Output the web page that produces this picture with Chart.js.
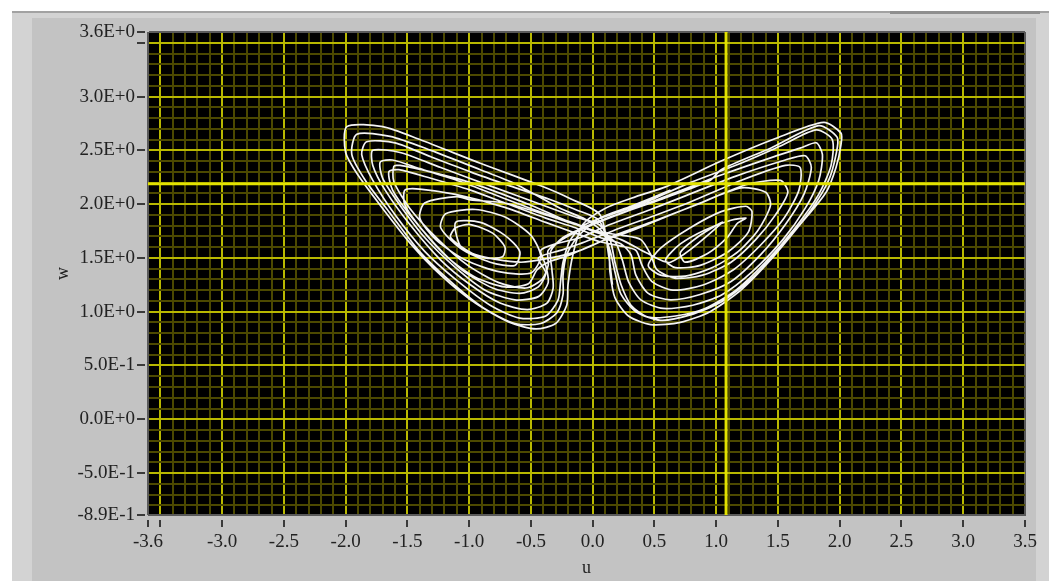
<!DOCTYPE html>
<html>
<head>
<meta charset="utf-8">
<script src="https://cdn.jsdelivr.net/npm/chart.js@4.4.1/dist/chart.umd.min.js"></script>
<style>
  html, body { margin: 0; padding: 0; background: #ffffff; }
  canvas { display: block; }
</style>
</head>
<body>
<canvas id="phase" width="1049" height="581"></canvas>
<script>
// Axis ranges
const uMin = -3.6, uMax = 3.5;
const wMin = -0.89, wMax = 3.6;

// Labelled ticks
const uTicks = [-3.6, -3.0, -2.5, -2.0, -1.5, -1.0, -0.5, 0.0, 0.5, 1.0, 1.5, 2.0, 2.5, 3.0, 3.5];
const uTickText = ['-3.6', '-3.0', '-2.5', '-2.0', '-1.5', '-1.0', '-0.5', '0.0', '0.5', '1.0', '1.5', '2.0', '2.5', '3.0', '3.5'];
const wTicks = [3.6, 3.0, 2.5, 2.0, 1.5, 1.0, 0.5, 0.0, -0.5, -0.89];
const wTickText = ['3.6E+0', '3.0E+0', '2.5E+0', '2.0E+0', '1.5E+0', '1.0E+0', '5.0E-1', '0.0E+0', '-5.0E-1', '-8.9E-1'];

// Cursor positions
const cursorU = 1.08;
const cursorW = 2.19;

// Trajectory, lap by lap: [u, w]
const leadIn = [[0.16,1.25],[0.13,1.52],[0.06,1.90],[-0.18,2.05]];
const left1 = [[-0.42,2.17],[-0.91,2.38],[-1.40,2.60],[-1.70,2.72],[-1.99,2.72],[-2.00,2.48],[-1.90,2.27],[-1.72,1.99],[-1.48,1.64],[-1.23,1.34],[-0.95,1.08],[-0.67,0.90],[-0.46,0.84],[-0.30,0.89],[-0.21,1.06],[-0.20,1.25],[-0.16,1.53],[-0.08,1.81],[0.10,1.96],[0.35,2.07]];
const right1 = [[0.59,2.16],[1.04,2.40],[1.48,2.61],[1.87,2.76],[2.01,2.66],[2.01,2.55],[1.97,2.34],[1.89,2.11],[1.68,1.81],[1.44,1.48],[1.20,1.20],[0.95,1.00],[0.71,0.90],[0.47,0.88],[0.29,0.96],[0.18,1.13],[0.14,1.37],[0.13,1.59],[0.05,1.85],[-0.14,1.95],[-0.34,2.04]];
const left2 = [[-0.67,2.17],[-0.99,2.30],[-1.31,2.44],[-1.60,2.57],[-1.83,2.58],[-1.87,2.46],[-1.78,2.22],[-1.60,1.90],[-1.36,1.56],[-1.11,1.30],[-0.83,1.06],[-0.59,0.94],[-0.38,0.96],[-0.28,1.11],[-0.26,1.28],[-0.24,1.46],[-0.18,1.67],[-0.06,1.81],[0.14,1.90],[0.39,2.00]];
const right2 = [[0.79,2.20],[1.20,2.38],[1.52,2.54],[1.81,2.69],[1.94,2.60],[1.93,2.36],[1.83,2.09],[1.64,1.78],[1.40,1.46],[1.16,1.20],[0.91,1.03],[0.67,0.96],[0.45,0.95],[0.31,1.06],[0.23,1.25],[0.18,1.46],[0.14,1.67],[0.05,1.81],[-0.14,1.88],[-0.38,1.98]];
const left3 = [[-0.83,2.17],[-1.23,2.34],[-1.56,2.48],[-1.78,2.50],[-1.78,2.36],[-1.68,2.13],[-1.48,1.81],[-1.23,1.48],[-0.99,1.25],[-0.75,1.08],[-0.53,1.02],[-0.37,1.08],[-0.32,1.22],[-0.33,1.39],[-0.34,1.56],[-0.24,1.69],[-0.08,1.78],[0.14,1.88],[0.43,2.00]];
const right3 = [[1.04,2.27],[1.44,2.43],[1.68,2.52],[1.81,2.57],[1.86,2.46],[1.83,2.22],[1.72,1.96],[1.54,1.67],[1.29,1.37],[1.05,1.16],[0.81,1.06],[0.57,1.03],[0.39,1.11],[0.29,1.28],[0.24,1.48],[0.18,1.65],[0.05,1.73],[-0.14,1.82],[-0.38,1.91],[-0.71,2.05]];
const left4 = [[-1.07,2.21],[-1.40,2.33],[-1.62,2.41],[-1.72,2.39],[-1.70,2.24],[-1.56,1.99],[-1.36,1.69],[-1.11,1.41],[-0.87,1.20],[-0.63,1.11],[-0.44,1.14],[-0.36,1.27],[-0.38,1.43],[-0.42,1.57],[-0.30,1.63],[-0.10,1.69],[0.14,1.81],[0.47,1.95]];
const right4 = [[1.16,2.26],[1.56,2.41],[1.72,2.45],[1.77,2.34],[1.71,2.09],[1.56,1.81],[1.36,1.53],[1.12,1.28],[0.87,1.16],[0.63,1.11],[0.45,1.17],[0.35,1.34],[0.31,1.53],[0.23,1.63],[0.06,1.69],[-0.14,1.78],[-0.38,1.87],[-0.71,2.01]];
const left5 = [[-0.99,2.13],[-1.31,2.24],[-1.57,2.32],[-1.65,2.30],[-1.62,2.13],[-1.48,1.90],[-1.27,1.62],[-1.06,1.39],[-0.81,1.22],[-0.59,1.17],[-0.44,1.23],[-0.38,1.36],[-0.44,1.50],[-0.26,1.57],[-0.06,1.65],[0.18,1.76],[0.47,1.88],[0.79,2.02]];
const right5 = [[1.20,2.22],[1.56,2.36],[1.68,2.34],[1.67,2.13],[1.55,1.87],[1.36,1.62],[1.14,1.39],[0.90,1.25],[0.65,1.20],[0.48,1.28],[0.40,1.43],[0.35,1.57],[0.23,1.61],[0.06,1.65],[-0.14,1.73],[-0.38,1.83],[-0.71,1.97]];
const left6 = [[-1.11,2.09],[-1.40,2.14],[-1.52,2.13],[-1.52,1.99],[-1.38,1.76],[-1.17,1.50],[-0.95,1.32],[-0.71,1.23],[-0.52,1.26],[-0.45,1.39],[-0.36,1.46],[-0.18,1.53],[0.06,1.65],[0.31,1.75],[0.59,1.88],[0.87,2.01]];
const right6 = [[1.24,2.18],[1.52,2.22],[1.58,2.11],[1.48,1.90],[1.32,1.67],[1.12,1.46],[0.89,1.34],[0.67,1.31],[0.52,1.39],[0.47,1.53],[0.39,1.67],[0.24,1.71],[0.06,1.74],[-0.14,1.81],[-0.38,1.90],[-0.71,2.01]];
const leftCore = [[-0.99,2.04],[-1.10,2.07],[-1.36,2.01],[-1.40,1.87],[-1.27,1.67],[-1.03,1.48],[-0.75,1.37],[-0.50,1.36],[-0.42,1.51],[-0.50,1.71],[-0.71,1.88],[-0.95,1.95],[-1.19,1.91],
  [-1.23,1.78],[-1.07,1.59],[-0.83,1.46],[-0.63,1.43],[-0.59,1.56],[-0.71,1.71],[-0.91,1.83],[-1.11,1.83],
  [-1.06,1.59],[-0.87,1.50],[-0.73,1.51],[-0.71,1.60],[-0.81,1.73],[-0.99,1.81],[-1.11,1.78],[-1.15,1.69],
  [-0.95,1.53],[-0.59,1.46],[-0.34,1.50],[-0.10,1.57],[0.18,1.71],[0.47,1.83],[0.83,1.99]];
const rightCore = [[1.20,2.15],[1.40,2.11],[1.44,1.99],[1.34,1.76],[1.18,1.56],[0.97,1.41],[0.75,1.33],[0.55,1.34],[0.45,1.43],[0.55,1.59],[0.79,1.78],[1.04,1.93],[1.24,1.98],
  [1.29,1.93],[1.26,1.74],[1.10,1.56],[0.87,1.43],[0.67,1.41],[0.59,1.48],[0.71,1.63],[0.91,1.76],[1.12,1.85],[1.24,1.87],
  [1.17,1.82],[1.09,1.69],[0.93,1.54],[0.75,1.46],[0.71,1.55],[0.87,1.71],[1.05,1.83],
  [0.63,1.46],[0.43,1.55],[0.23,1.67],[0.02,1.74],[-0.22,1.85],[-0.50,1.99]];
const left7 = [[-0.99,2.20],[-1.31,2.30],[-1.56,2.36],[-1.61,2.35],[-1.61,2.21],[-1.48,1.96],[-1.25,1.67],[-1.01,1.43],[-0.76,1.27],[-0.54,1.22],[-0.41,1.30],[-0.36,1.43],[-0.36,1.57],[-0.22,1.69],[-0.02,1.80],[0.27,1.93],[0.59,2.06],[0.95,2.22]];
const right7 = [[1.04,2.32],[1.44,2.52],[1.83,2.73],[1.98,2.62],[1.97,2.46],[1.91,2.22],[1.77,1.95],[1.54,1.62],[1.29,1.31],[1.04,1.09],[0.79,0.97],[0.55,0.92],[0.35,1.00],[0.23,1.16],[0.18,1.37],[0.14,1.57],[0.08,1.74],[-0.06,1.86],[-0.26,1.96]];
const left8 = [[-0.63,2.19],[-0.91,2.32],[-1.31,2.50],[-1.64,2.63],[-1.91,2.65],[-1.95,2.46],[-1.84,2.22],[-1.65,1.93],[-1.41,1.57],[-1.17,1.30],[-0.89,1.04],[-0.63,0.89],[-0.42,0.89],[-0.29,0.99],[-0.24,1.16],[-0.24,1.34],[-0.21,1.53],[-0.12,1.70],[0.06,1.87],[0.31,1.98],[0.63,2.13]];

const laps = [leadIn, left1, right1, left2, right2, left3, right3, left4, right4, left5, right5, left6, right6, leftCore, rightCore, left7, right7, left8];
const trajectory = laps.flat().map(([u, w]) => ({ x: u, y: w }));

const isMajor = v => Math.abs(v * 2 - Math.round(v * 2)) < 1e-6;
const near = (a, b) => Math.abs(a - b) < 1e-6;

// Grid every 0.1, plus the exact range ends
function gridTicks(scale, lo, hi) {
  const out = [{ value: lo }];
  for (let k = Math.ceil(lo * 10 + 1e-9); k <= Math.floor(hi * 10 - 1e-9); k++) {
    const v = k / 10;
    if (!near(v, lo)) out.push({ value: v });
  }
  out.push({ value: hi });
  scale.ticks = out;
}

function gridColor(lo, hi) {
  return ctx => {
    const v = ctx.tick.value;
    if (near(v, lo) || near(v, hi)) return '#5a5a5a';
    return isMajor(v) ? '#b8b800' : '#4c4900';
  };
}
function tickMarkColor(lo, hi) {
  return ctx => {
    const v = ctx.tick.value;
    return (near(v, lo) || near(v, hi) || isMajor(v)) ? '#3a3a3a' : 'rgba(0,0,0,0)';
  };
}
function labelFor(values, texts) {
  return value => {
    const i = values.findIndex(t => near(t, value));
    return i >= 0 ? texts[i] : '';
  };
}

// Grey instrument panel and black plot area
const panel = {
  id: 'panel',
  beforeDraw(chart) {
    const { ctx, chartArea: a, width, height } = chart;
    ctx.save();
    ctx.fillStyle = '#ffffff';
    ctx.fillRect(0, 0, width, height);
    ctx.fillStyle = '#c3c3c3';
    ctx.fillRect(12, 12, width - 12, height - 12);
    ctx.fillStyle = '#d3d3d3';
    ctx.fillRect(12, 12, 20, height - 12);
    ctx.fillRect(12, 13, width - 12, 5);
    ctx.fillRect(1036, 12, width - 1036, height - 12);
    ctx.fillStyle = '#a2a2a2';
    ctx.fillRect(12, 11, width - 12, 2);
    ctx.fillStyle = '#8e8e8e';
    ctx.fillRect(890, 11, 150, 3);
    ctx.fillStyle = '#000000';
    ctx.fillRect(a.left, a.top, a.right - a.left, a.bottom - a.top);
    ctx.restore();
  }
};

const labelFont = { family: "'Liberation Serif', 'DejaVu Serif', serif", size: 19 };
const titleFont = { family: "'Liberation Serif', 'DejaVu Serif', serif", size: 18 };

new Chart(document.getElementById('phase'), {
  type: 'scatter',
  data: {
    datasets: [
      {
        data: trajectory,
        showLine: true,
        borderColor: '#f4f4f4',
        borderWidth: 1.7,
        pointRadius: 0,
        tension: 0.25,
        order: 2
      },
      {
        data: [{ x: cursorU, y: wMin }, { x: cursorU, y: wMax }],
        showLine: true,
        borderColor: '#e2e200',
        borderWidth: 3,
        pointRadius: 0,
        order: 1
      },
      {
        data: [{ x: uMin, y: cursorW }, { x: uMax, y: cursorW }],
        showLine: true,
        borderColor: '#e2e200',
        borderWidth: 3,
        pointRadius: 0,
        order: 1
      }
    ]
  },
  plugins: [panel],
  options: {
    responsive: false,
    devicePixelRatio: 1,
    animation: false,
    layout: { padding: { left: 0, top: 32, right: 24, bottom: 0 } },
    plugins: { legend: { display: false }, tooltip: { enabled: false } },
    scales: {
      x: {
        type: 'linear',
        min: uMin,
        max: uMax,
        afterBuildTicks: s => gridTicks(s, uMin, uMax),
        afterFit: s => { s.height = 66; },
        border: { display: true, color: '#5a5a5a', width: 1 },
        grid: {
          color: gridColor(uMin, uMax),
          lineWidth: 2,
          drawTicks: true,
          tickLength: 12,
          tickWidth: 2,
          tickColor: tickMarkColor(uMin, uMax),
          tickBorderDash: [0, 4, 8, 100]
        },
        ticks: {
          autoSkip: false,
          maxRotation: 0,
          minRotation: 0,
          padding: 4,
          color: '#222222',
          font: labelFont,
          callback: labelFor(uTicks, uTickText)
        },
        title: {
          display: true,
          text: 'u',
          color: '#222222',
          font: titleFont,
          padding: { top: 0, bottom: 2 }
        }
      },
      y: {
        type: 'linear',
        min: wMin,
        max: wMax,
        afterBuildTicks: s => gridTicks(s, wMin, wMax),
        afterFit: s => { s.width = 148; },
        border: { display: true, color: '#5a5a5a', width: 1 },
        grid: {
          color: gridColor(wMin, wMax),
          lineWidth: 2,
          drawTicks: true,
          tickLength: 11,
          tickWidth: 2,
          tickColor: tickMarkColor(wMin, wMax),
          tickBorderDash: [8, 100]
        },
        ticks: {
          autoSkip: false,
          padding: 2,
          color: '#222222',
          font: labelFont,
          callback: labelFor(wTicks, wTickText)
        },
        title: {
          display: true,
          text: 'w',
          color: '#222222',
          font: titleFont,
          padding: { top: 52, bottom: 0 }
        }
      }
    }
  }
});
</script>
</body>
</html>
